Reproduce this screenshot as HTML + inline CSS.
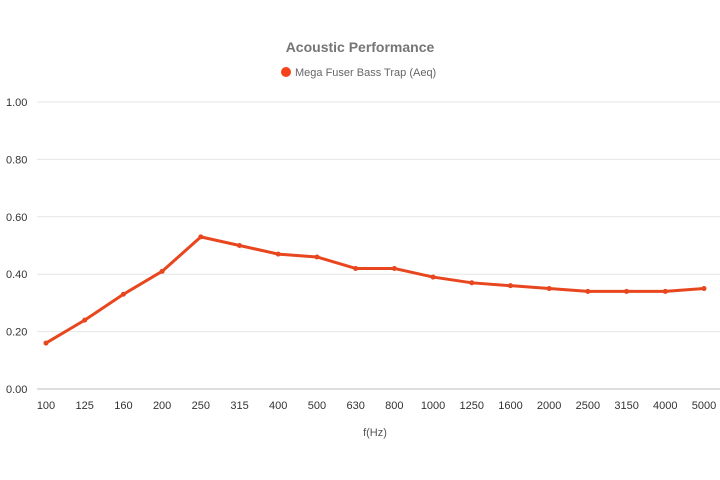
<!DOCTYPE html>
<html><head><meta charset="utf-8"><style>
html,body{margin:0;padding:0;background:#fff;}
svg{display:block;font-family:"Liberation Sans",Arial,sans-serif;}
</style></head><body>
<svg id="chart" width="720" height="480">
<text x="360" y="52" text-anchor="middle" font-size="14" font-weight="bold" fill="#757575">Acoustic Performance</text>
<g>
<circle cx="286" cy="72" r="5" fill="#f4421a"></circle>
<text x="295" y="76" font-size="11" fill="#666">Mega Fuser Bass Trap (Aeq)</text>
</g>
<g id="grid"></g><g id="xaxis"></g><g id="series"></g>
<text x="375" y="436" text-anchor="middle" font-size="11" fill="#555">f(Hz)</text>
</svg>
<script>
const categories=["100","125","160","200","250","315","400","500","630","800","1000","1250","1600","2000","2500","3150","4000","5000"];
const values=[0.16,0.24,0.33,0.41,0.53,0.50,0.47,0.46,0.42,0.42,0.39,0.37,0.36,0.35,0.34,0.34,0.34,0.35];
const yTicks=[0,0.2,0.4,0.6,0.8,1.0];
const NS="http://www.w3.org/2000/svg";
const y0=389,y1=102,xL=46,xR=704;
const yS=v=>y0-(v-0)*(y0-y1)/1.0;
const xS=i=>xL+i*(xR-xL)/(categories.length-1);
function mk(tag,attrs,parent){const e=document.createElementNS(NS,tag);for(const k in attrs)e.setAttribute(k,attrs[k]);parent.appendChild(e);return e;}
const grid=document.getElementById('grid');
yTicks.forEach(t=>{
  const l=mk('line',{x1:37,x2:720,y1:yS(t),y2:yS(t),stroke:t===0?'#bdbdbd':'#e6e6e6','stroke-width':1},grid);
  
  
  const tx=mk('text',{x:6,y:yS(t)+4,'font-size':11,fill:'#333'},grid);
  tx.textContent=t.toFixed(2);
  
  
});
const xa=document.getElementById('xaxis');
categories.forEach((c,i)=>{
  const tx=mk('text',{x:xS(i),y:409,'font-size':11,fill:'#333','text-anchor':'middle'},xa);
  tx.textContent=c;
  
  
});
const s=document.getElementById('series');
const pl=mk('polyline',{points:values.map((v,i)=>xS(i)+','+yS(v)).join(' '),fill:'none',stroke:'#e8461e','stroke-width':3,'stroke-linejoin':'round'},s);


values.forEach((v,i)=>{
  const c=mk('circle',{cx:xS(i),cy:yS(v),r:2.5,fill:'#e8461e'},s);
  
  
});
</script>
</body></html>
